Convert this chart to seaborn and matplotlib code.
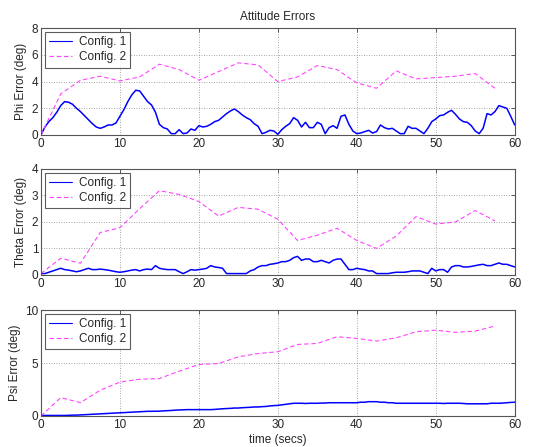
import matplotlib
matplotlib.use("Agg")
import matplotlib.pyplot as plt
import numpy as np
import pandas as pd
import seaborn as sns

# --- Config. 1 (continuous estimator error, sampled every 0.5 s) ---
t1 = [i * 0.5 for i in range(121)]
phi_c1 = [0.0, 0.6, 1.0, 1.3, 1.7, 2.2, 2.5, 2.45, 2.3, 2.0,
          1.75, 1.45, 1.15, 0.85, 0.6, 0.5, 0.6, 0.75, 0.75, 0.9,
          1.4, 1.9, 2.5, 3.0, 3.35, 3.3, 2.9, 2.5, 2.25, 1.7,
          0.8, 0.55, 0.45, 0.1, 0.1, 0.4, 0.1, 0.15, 0.45, 0.35,
          0.7, 0.6, 0.65, 0.8, 1.0, 1.1, 1.35, 1.6, 1.8, 1.95,
          1.75, 1.5, 1.3, 1.15, 0.85, 0.65, 0.1, 0.2, 0.35, 0.3,
          0.05, 0.4, 0.65, 0.85, 1.3, 1.1, 0.6, 0.95, 0.55, 0.55,
          0.95, 0.8, 0.1, 0.55, 0.7, 0.5, 1.4, 1.5, 0.8, 0.3,
          0.1, 0.15, 0.25, 0.35, 0.15, 0.25, 0.75, 0.55, 0.45, 0.5,
          0.3, 0.1, 0.1, 0.65, 0.5, 0.5, 0.3, 0.1, 0.5, 1.0,
          1.2, 1.45, 1.5, 1.7, 1.85, 1.55, 1.2, 1.0, 0.95, 0.7,
          0.3, 0.1, 0.5, 1.6, 1.5, 1.75, 2.2, 2.1, 2.0, 1.4,
          0.75]
theta_c1 = [0.05, 0.05, 0.1, 0.15, 0.2, 0.25, 0.2, 0.18, 0.15, 0.12,
            0.15, 0.2, 0.25, 0.2, 0.2, 0.22, 0.2, 0.18, 0.15, 0.12,
            0.1, 0.12, 0.15, 0.18, 0.2, 0.15, 0.2, 0.22, 0.2, 0.35,
            0.25, 0.22, 0.2, 0.2, 0.2, 0.12, 0.05, 0.12, 0.2, 0.18,
            0.2, 0.22, 0.25, 0.35, 0.3, 0.28, 0.25, 0.05, 0.05, 0.05,
            0.05, 0.05, 0.05, 0.15, 0.2, 0.3, 0.35, 0.35, 0.4, 0.42,
            0.45, 0.5, 0.5, 0.55, 0.65, 0.7, 0.55, 0.6, 0.6, 0.5,
            0.5, 0.55, 0.5, 0.45, 0.55, 0.6, 0.6, 0.4, 0.2, 0.2,
            0.25, 0.22, 0.2, 0.15, 0.15, 0.05, 0.05, 0.05, 0.05, 0.08,
            0.1, 0.1, 0.1, 0.12, 0.15, 0.15, 0.15, 0.1, 0.05, 0.25,
            0.15, 0.2, 0.2, 0.1, 0.3, 0.35, 0.35, 0.3, 0.3, 0.32,
            0.35, 0.38, 0.4, 0.35, 0.35, 0.4, 0.45, 0.4, 0.4, 0.35,
            0.3]
psi_c1 = [0.05, 0.05, 0.05, 0.05, 0.05, 0.05, 0.05, 0.06, 0.08, 0.08,
          0.1, 0.12, 0.14, 0.16, 0.18, 0.2, 0.22, 0.24, 0.26, 0.28,
          0.3, 0.32, 0.34, 0.36, 0.38, 0.4, 0.42, 0.44, 0.44, 0.45,
          0.45, 0.48, 0.5, 0.52, 0.55, 0.57, 0.58, 0.6, 0.6, 0.6,
          0.6, 0.6, 0.6, 0.6, 0.62, 0.65, 0.68, 0.7, 0.72, 0.75,
          0.75, 0.78, 0.8, 0.82, 0.85, 0.85, 0.88, 0.9, 0.95, 0.98,
          1.0, 1.05, 1.1, 1.15, 1.2, 1.2, 1.2, 1.18, 1.2, 1.2,
          1.2, 1.22, 1.22, 1.25, 1.25, 1.25, 1.25, 1.25, 1.25, 1.25,
          1.25, 1.3, 1.3, 1.35, 1.35, 1.35, 1.3, 1.3, 1.25, 1.25,
          1.2, 1.2, 1.2, 1.2, 1.2, 1.2, 1.2, 1.2, 1.2, 1.2,
          1.2, 1.2, 1.18, 1.2, 1.2, 1.2, 1.2, 1.18, 1.15, 1.15,
          1.15, 1.15, 1.15, 1.15, 1.2, 1.2, 1.2, 1.22, 1.25, 1.28,
          1.3]

# --- Config. 2 (updated every 2.5 s) ---
t2 = [i * 2.5 for i in range(24)]
phi_c2 = [0.0, 3.07, 4.1, 4.4, 4.05, 4.35, 5.3, 4.9, 4.1, 4.75,
          5.4, 5.25, 4.0, 4.35, 5.2, 4.9, 3.9, 3.5, 4.8, 4.2,
          4.3, 4.4, 4.6, 3.5]
theta_c2 = [0.05, 0.63, 0.44, 1.6, 1.78, 2.5, 3.18, 3.04, 2.77, 2.22,
            2.55, 2.48, 2.1, 1.3, 1.5, 1.76, 1.3, 1.0, 1.47, 2.2,
            1.92, 2.0, 2.43, 2.04]
psi_c2 = [0.0, 1.73, 1.26, 2.43, 3.2, 3.47, 3.53, 4.23, 4.86, 4.95,
          5.58, 5.9, 6.06, 6.75, 6.85, 7.48, 7.32, 7.07, 7.38, 7.95,
          8.1, 7.89, 8.01, 8.49]

panels = [
    ("Phi Error (deg)", phi_c1, phi_c2, [0, 2, 4, 6, 8]),
    ("Theta Error (deg)", theta_c1, theta_c2, [0, 1, 2, 3, 4]),
    ("Psi Error (deg)", psi_c1, psi_c2, [0, 5, 10]),
]
x_ticks = [0, 10, 20, 30, 40, 50, 60]
FS = 8.5

sns.set_style("white")
plt.rcParams["font.family"] = ["Liberation Sans", "DejaVu Sans"]
plt.rcParams["font.size"] = FS

fig = plt.figure(figsize=(5.42, 4.47), dpi=100)
rects = [
    [0.0756, 0.698, 0.874, 0.239],
    [0.0756, 0.385, 0.874, 0.237],
    [0.0756, 0.0694, 0.874, 0.237],
]

for rect, (ylabel, c1, c2, yt) in zip(rects, panels):
    ax = fig.add_axes(rect)
    d1 = pd.DataFrame({"t": t1, "err": c1})
    d2 = pd.DataFrame({"t": t2, "err": c2})
    sns.lineplot(data=d1, x="t", y="err", ax=ax, color="#0000ff",
                 linewidth=1.1, label="Config. 1")
    sns.lineplot(data=d2, x="t", y="err", ax=ax, color="#ff44ff",
                 linewidth=0.8, dashes=False, label="Config. 2")
    ax.lines[-1].set_dashes([4, 2.5])
    ax.set_xlim(0, 60)
    ax.set_ylim(yt[0], yt[-1])
    ax.set_xticks(x_ticks)
    ax.set_yticks(yt)
    ax.grid(True, color="#888888", linestyle=(0, (1, 2)), linewidth=0.6)
    ax.tick_params(direction="in", length=3, width=0.6, color="#444444",
                   top=True, right=True, labelsize=FS, pad=2)
    for s in ax.spines.values():
        s.set_color("#555555")
        s.set_linewidth(0.8)
    ax.set_ylabel(ylabel, fontsize=FS, labelpad=3)
    ax.set_xlabel("")
    leg = ax.legend(loc="upper left", fontsize=FS, frameon=True, fancybox=False,
                    borderpad=0.35, labelspacing=0.25, handlelength=1.9,
                    handletextpad=0.6, borderaxespad=0.35)
    leg.get_frame().set_edgecolor("#333333")
    leg.get_frame().set_linewidth(0.8)
    for h in leg.get_lines():
        h.set_linewidth(0.8)
    if ylabel.startswith("Phi"):
        ax.set_title("Attitude Errors", fontsize=FS, pad=6)
    if ylabel.startswith("Psi"):
        ax.set_xlabel("time (secs)", fontsize=FS, labelpad=2)

fig.savefig("out.png", dpi=100)
